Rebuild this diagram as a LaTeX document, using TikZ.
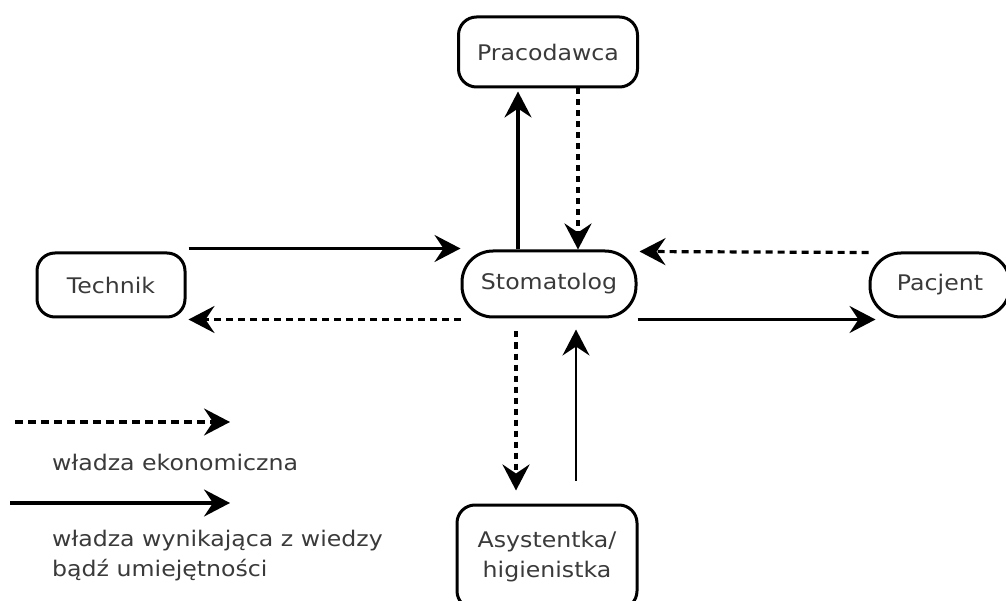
\documentclass[tikz,border=0pt]{standalone}
\usepackage{fontspec}
\setmainfont{DejaVu Sans}[FakeStretch=1.1]
\usetikzlibrary{arrows.meta}
\definecolor{txt}{RGB}{58,58,58}
\tikzset{
  box/.style={draw, line width=3pt, rounded corners=18pt, text=txt,
    font=\fontsize{21.5}{30}\selectfont, align=center, inner sep=0pt},
  pill/.style={box, rounded corners=31pt},
  head/.style={-{Stealth[length=26pt,width=27pt,inset=9pt]}},
  know/.style={head, line width=3.2pt},
  knowthin/.style={head, line width=2.2pt},
  econ/.style={head, line width=3.2pt, dash pattern=on 7pt off 5pt},
  econv/.style={head, line width=3.6pt, dash pattern=on 6pt off 5pt},
  legend/.style={text=txt, font=\fontsize{21.5}{30}\selectfont, align=left, inner sep=0pt}
}
\begin{document}
\begin{tikzpicture}[x=1pt, y=-1pt]
\useasboundingbox (0,0) rectangle (1006,601);
\clip (0,0) rectangle (1006,601);

% actors
\node[box, minimum width=179pt, minimum height=70pt] (prac) at (548,52) {Pracodawca};
\node[pill, minimum width=174pt, minimum height=66pt] (stom) at (549,284) {Stomatolog};
\node[box, minimum width=148pt, minimum height=64pt] (tech) at (111,285) {Technik};
\node[pill, minimum width=140pt, minimum height=64pt] (pac) at (940,285) {Pacjent};
\node[box, minimum width=180pt, minimum height=104pt] (asy) at (547,557) {Asystentka/\\higienistka};

% Stomatolog -- Pracodawca
\draw[know] ([xshift=-31pt]stom.north) -- ([shift={(-30pt,-3pt)}]prac.south);
\draw[econv] ([xshift=30pt]prac.south) -- ([xshift=29pt]stom.north);

% Technik -- Stomatolog
\draw[know] ([shift={(2pt,3pt)}]tech.north east) -- ([yshift=1pt]stom.north west);
\draw[econ] ([yshift=-1pt]stom.south west) -- ([shift={(2pt,-1pt)}]tech.south east);

% Pacjent -- Stomatolog
\draw[econ] ([yshift=-1pt]pac.north west) -- ([shift={(2pt,-2pt)}]stom.north east);
\draw[know] ([yshift=-1pt]stom.south east) -- ([shift={(7pt,-1pt)}]pac.south west);

% Stomatolog -- Asystentka
\draw[econv] ([shift={(-33pt,-13pt)}]stom.south) -- ([shift={(-31pt,13pt)}]asy.north);
\draw[knowthin] ([shift={(29pt,23pt)}]asy.north) -- ([shift={(27pt,-11pt)}]stom.south);

% legend
\coordinate (e1) at (15,422);
\coordinate (e2) at (230,422);
\coordinate (k1) at (10,503);
\coordinate (k2) at (230,503);
\draw[econ, dash pattern=on 8pt off 5pt] (e1) -- (e2);
\draw[know] (k1) -- (k2);
\node[legend, anchor=base west] (econtxt) at (52,470) {władza ekonomiczna};
\node[legend, anchor=north west] (knowtxt) at (52,530) {władza wynikająca z wiedzy\\bądź umiejętności};
\end{tikzpicture}
\end{document}
